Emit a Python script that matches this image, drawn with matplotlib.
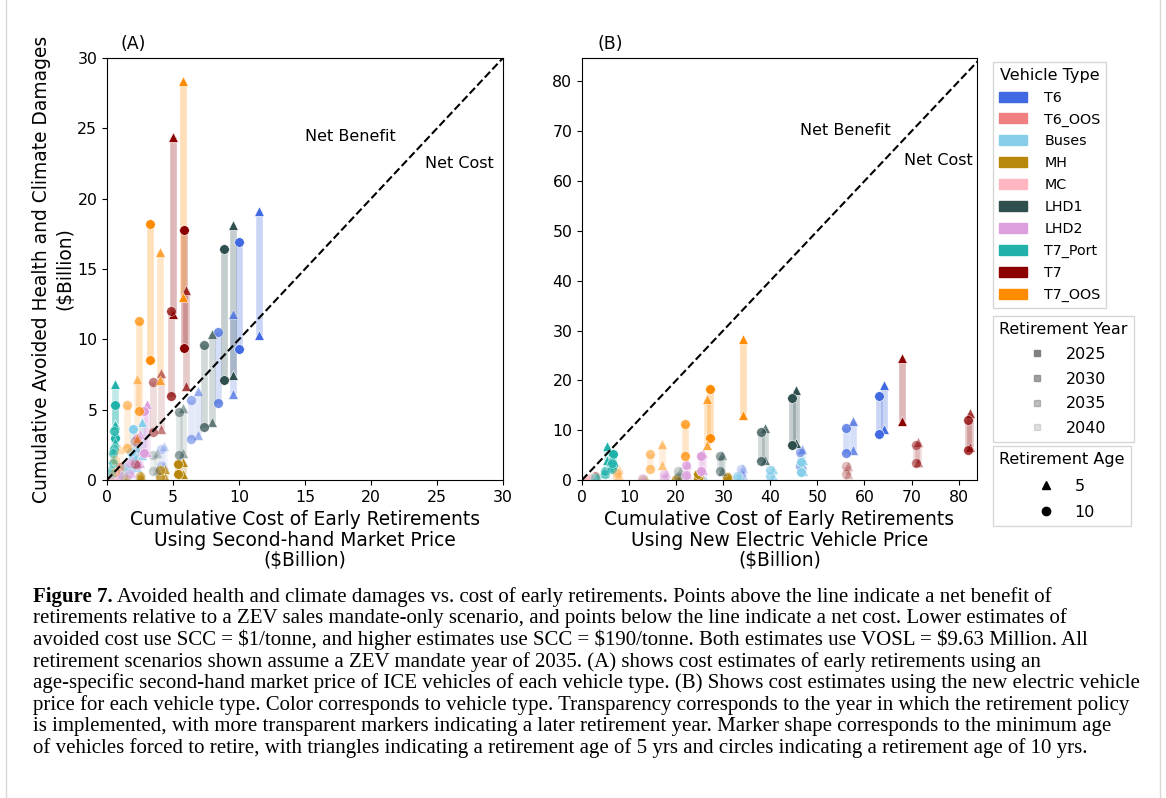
import matplotlib
matplotlib.use('Agg')
import matplotlib.pyplot as plt
import matplotlib.patches as mpatches
from matplotlib.lines import Line2D

W, H = 1166, 798

vehicle_types = ['T6', 'T6_OOS', 'Buses', 'MH', 'MC', 'LHD1', 'LHD2', 'T7_Port', 'T7', 'T7_OOS']
colors = ['royalblue', 'lightcoral', 'skyblue', 'darkgoldenrod', 'lightpink',
          'darkslategray', 'plum', 'lightseagreen', 'darkred', 'darkorange']
years = [2025, 2030, 2035, 2040]
year_alpha = [1.0, 0.75, 0.5, 0.25]
ages = [5, 10]

# scenario order for every array below
scen_years = [2025, 2025, 2030, 2030, 2035, 2035, 2040, 2040]
scen_ages = [5, 10, 5, 10, 5, 10, 5, 10]

# cumulative cost using second-hand market price ($Billion) - panel A
cost_secondhand = {
    'T6':      [11.54, 9.97, 9.57, 8.38, 6.92, 6.34, 4.30, 4.07],
    'T6_OOS':  [1.20, 1.00, 0.90, 0.80, 0.60, 0.50, 0.30, 0.25],
    'Buses':   [2.63, 2.00, 2.30, 1.80, 1.50, 1.30, 0.90, 0.80],
    'MH':      [5.75, 5.40, 4.40, 4.00, 2.60, 2.50, 1.50, 1.40],
    'MC':      [0.50, 0.45, 0.40, 0.35, 0.30, 0.25, 0.15, 0.10],
    'LHD1':    [9.57, 8.86, 7.93, 7.35, 5.78, 5.48, 3.80, 3.50],
    'LHD2':    [3.00, 2.80, 2.50, 2.30, 1.90, 1.70, 1.00, 0.90],
    'T7_Port': [0.62, 0.62, 0.58, 0.56, 0.45, 0.43, 0.30, 0.28],
    'T7':      [4.97, 5.83, 6.00, 4.85, 4.06, 3.50, 2.30, 2.10],
    'T7_OOS':  [5.73, 3.26, 4.00, 2.45, 2.25, 1.49, 0.95, 0.60],
}
# cumulative cost using new electric vehicle price ($Billion) - panel B
cost_new_ev = {
    'T6':      [64.1, 63.1, 57.6, 56.1, 46.8, 46.3, 34.2, 33.8],
    'T6_OOS':  [3.0, 2.7, 2.4, 2.2, 1.8, 1.5, 1.0, 0.8],
    'Buses':   [47.0, 46.5, 40.6, 40.0, 33.5, 33.0, 26.0, 25.5],
    'MH':      [25.0, 24.6, 31.2, 30.8, 20.3, 20.0, 13.5, 13.0],
    'MC':      [2.2, 2.0, 1.8, 1.6, 1.3, 1.1, 0.7, 0.5],
    'LHD1':    [45.4, 44.5, 38.9, 38.0, 29.7, 29.3, 20.8, 20.4],
    'LHD2':    [25.6, 25.2, 22.4, 22.0, 17.8, 17.5, 13.0, 12.7],
    'T7_Port': [5.4, 6.6, 5.9, 6.3, 4.6, 4.9, 3.2, 2.8],
    'T7':      [68.0, 88.0, 82.5, 82.0, 71.3, 71.0, 56.4, 56.0],
    'T7_OOS':  [34.2, 27.2, 26.6, 21.9, 16.9, 14.4, 7.9, 7.5],
}
# avoided health and climate damages ($Billion): SCC = $1/tonne (low), $190/tonne (high)
damage_low = {
    'T6':      [10.3, 9.3, 6.1, 5.5, 3.2, 2.9, 1.1, 1.0],
    'T6_OOS':  [0.40, 0.35, 0.25, 0.20, 0.10, 0.10, 0.05, 0.04],
    'Buses':   [1.8, 1.6, 0.9, 0.8, 0.4, 0.35, 0.15, 0.10],
    'MH':      [0.45, 0.40, 0.20, 0.20, 0.10, 0.10, 0.05, 0.05],
    'MC':      [0.15, 0.12, 0.10, 0.08, 0.05, 0.04, 0.02, 0.01],
    'LHD1':    [7.5, 7.1, 4.1, 3.8, 1.9, 1.75, 0.70, 0.65],
    'LHD2':    [2.0, 1.9, 1.2, 1.1, 0.5, 0.45, 0.20, 0.15],
    'T7_Port': [4.0, 3.0, 2.7, 2.2, 1.5, 1.2, 0.6, 0.4],
    'T7':      [11.8, 9.4, 6.7, 6.0, 3.6, 3.4, 1.2, 1.15],
    'T7_OOS':  [13.0, 8.5, 7.1, 4.9, 3.0, 2.3, 1.0, 0.6],
}
damage_high = {
    'T6':      [19.1, 16.9, 11.8, 10.5, 6.3, 5.7, 2.4, 2.2],
    'T6_OOS':  [1.00, 0.90, 0.60, 0.50, 0.30, 0.25, 0.10, 0.08],
    'Buses':   [4.1, 3.6, 2.3, 2.0, 1.0, 0.9, 0.40, 0.35],
    'MH':      [1.25, 1.15, 0.75, 0.70, 0.35, 0.30, 0.15, 0.12],
    'MC':      [0.45, 0.40, 0.30, 0.25, 0.15, 0.12, 0.06, 0.05],
    'LHD1':    [18.1, 16.4, 10.4, 9.6, 5.1, 4.8, 1.9, 1.8],
    'LHD2':    [5.4, 4.9, 3.3, 3.0, 1.4, 1.2, 0.45, 0.40],
    'T7_Port': [6.8, 5.3, 3.9, 3.5, 2.1, 1.9, 0.9, 0.7],
    'T7':      [24.4, 17.8, 13.5, 12.0, 7.6, 7.0, 2.9, 2.8],
    'T7_OOS':  [28.4, 18.2, 16.2, 11.3, 7.2, 5.3, 2.2, 1.4],
}

caption_lines = [
    "Avoided health and climate damages vs. cost of early retirements. Points above the line indicate a net benefit of",
    "retirements relative to a ZEV sales mandate-only scenario, and points below the line indicate a net cost. Lower estimates of",
    "avoided cost use SCC = \\$1/tonne, and higher estimates use SCC = \\$190/tonne. Both estimates use VOSL = \\$9.63 Million. All",
    "retirement scenarios shown assume a ZEV mandate year of 2035. (A) shows cost estimates of early retirements using an",
    "age-specific second-hand market price of ICE vehicles of each vehicle type. (B) Shows cost estimates using the new electric vehicle",
    "price for each vehicle type. Color corresponds to vehicle type. Transparency corresponds to the year in which the retirement policy",
    "is implemented, with more transparent markers indicating a later retirement year. Marker shape corresponds to the minimum age",
    "of vehicles forced to retire, with triangles indicating a retirement age of 5 yrs and circles indicating a retirement age of 10 yrs.",
]
caption_y = [597, 618, 640, 662, 683, 705, 727, 748, 770]

fig = plt.figure(figsize=(W / 100, H / 100), dpi=100)
axA = fig.add_axes([107 / W, 1 - 480 / H, 396 / W, 422 / H])
axB = fig.add_axes([582 / W, 1 - 480 / H, 395 / W, 422 / H])


def draw(ax, costs):
    for vt, c in zip(vehicle_types, colors):
        for x, lo, hi, yr in zip(costs[vt], damage_low[vt], damage_high[vt], scen_years):
            a = year_alpha[years.index(yr)]
            ax.plot([x, x], [lo, hi], color=c, alpha=0.28 * a, lw=4.8,
                    solid_capstyle='butt', zorder=1)
    for vt, c in zip(vehicle_types, colors):
        for x, lo, hi, yr, ag in zip(costs[vt], damage_low[vt], damage_high[vt],
                                     scen_years, scen_ages):
            a = year_alpha[years.index(yr)]
            m = '^' if ag == 5 else 'o'
            ax.scatter([x, x], [lo, hi], marker=m, color=c, alpha=a, s=48,
                       edgecolors='white', linewidths=0.4, zorder=2)


draw(axA, cost_secondhand)
draw(axB, cost_new_ev)

label_fs = 13.4
tick_fs = 11.3

axA.plot([0, 30], [0, 30], 'k--', lw=1.5, zorder=3)
axA.set_xlim(0, 30)
axA.set_ylim(0, 30)
axA.set_xticks([0, 5, 10, 15, 20, 25, 30])
axA.set_yticks([0, 5, 10, 15, 20, 25, 30])
axA.text(15.0, 24.4, 'Net Benefit', fontsize=11.5, va='center')
axA.text(24.1, 22.5, 'Net Cost', fontsize=11.5, va='center')
axA.text(0.035, 1.012, '(A)', transform=axA.transAxes, fontsize=12.5, va='bottom')
axA.set_xlabel('Cumulative Cost of Early Retirements\nUsing Second-hand Market Price\n(\\$Billion)',
               fontsize=label_fs, linespacing=1.1)
axA.set_ylabel('Cumulative Avoided Health and Climate Damages\n(\\$Billion)',
               fontsize=label_fs, linespacing=1.3, labelpad=2)

axB.plot([0, 90], [0, 90], 'k--', lw=1.5, zorder=3)
axB.set_xlim(0, 83.9)
axB.set_ylim(0, 84.7)
axB.set_xticks([0, 10, 20, 30, 40, 50, 60, 70, 80])
axB.set_yticks([0, 10, 20, 30, 40, 50, 60, 70, 80])
axB.text(46.3, 70.1, 'Net Benefit', fontsize=11.5, va='center')
axB.text(68.4, 64.1, 'Net Cost', fontsize=11.5, va='center')
axB.text(0.04, 1.012, '(B)', transform=axB.transAxes, fontsize=12.5, va='bottom')
axB.set_xlabel('Cumulative Cost of Early Retirements\nUsing New Electric Vehicle Price\n(\\$Billion)',
               fontsize=label_fs, linespacing=1.1)

for ax in (axA, axB):
    ax.tick_params(labelsize=tick_fs)

# Legends
veh_handles = [mpatches.Patch(color=c, label=v) for v, c in zip(vehicle_types, colors)]
leg1 = fig.legend(handles=veh_handles, title='Vehicle Type', loc='upper left',
                  bbox_to_anchor=(993 / W, 1 - 62 / H), borderaxespad=0,
                  fontsize=10.3, title_fontsize=11.5, fancybox=False,
                  labelspacing=0.55, handletextpad=1.2, edgecolor='#cccccc')
yr_handles = [Line2D([], [], marker='s', linestyle='', color='gray', alpha=a,
                     markersize=5, label=str(y)) for y, a in zip(years, year_alpha)]
leg2 = fig.legend(handles=yr_handles, title='Retirement Year', loc='upper left',
                  bbox_to_anchor=(993 / W, 1 - 316 / H), borderaxespad=0,
                  fontsize=11.5, title_fontsize=11.5, fancybox=False,
                  labelspacing=0.6, edgecolor='#cccccc')
age_handles = [Line2D([], [], marker='^', linestyle='', color='black', markersize=6, label='5'),
               Line2D([], [], marker='o', linestyle='', color='black', markersize=6, label='10')]
leg3 = fig.legend(handles=age_handles, title='Retirement Age', loc='upper left',
                  bbox_to_anchor=(993 / W, 1 - 446 / H), borderaxespad=0,
                  fontsize=11.5, title_fontsize=11.5, fancybox=False,
                  labelspacing=0.7, edgecolor='#cccccc')

# Caption
serif = ['Liberation Serif', 'DejaVu Serif']
fig.canvas.draw()
r = fig.canvas.get_renderer()
cap_fs = 15.0
x0 = 33
for i, line in enumerate(caption_lines):
    y = 1 - caption_y[i] / H
    if i == 0:
        tb = fig.text(x0 / W, y, 'Figure 7.', fontsize=cap_fs, fontweight='bold',
                      family=serif, va='center')
        bb = tb.get_window_extent(r)
        fig.text((bb.x1 + 4) / W, y, line, fontsize=cap_fs, family=serif, va='center')
    else:
        fig.text(x0 / W, y, line, fontsize=cap_fs, family=serif, va='center')

# light frame lines
for xp in (6, 1160):
    fig.add_artist(Line2D([xp / W, xp / W], [0, 1], transform=fig.transFigure,
                          color='#d8d8d8', lw=1))

fig.savefig('out.png', dpi=100)
